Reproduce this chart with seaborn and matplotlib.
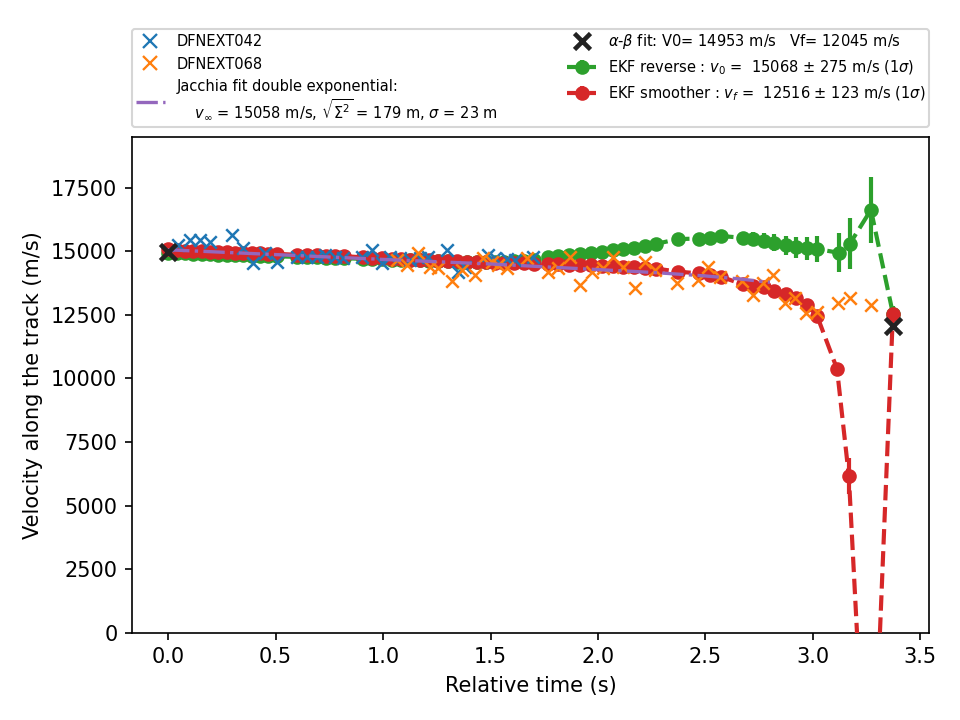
import numpy as np
import pandas as pd
import matplotlib
matplotlib.use("Agg")
import matplotlib.pyplot as plt
from matplotlib.lines import Line2D
import seaborn as sns

# DFNEXT042 observations
t042 = [0.047, 0.102, 0.149, 0.195, 0.298, 0.349, 0.395, 0.451, 0.507, 0.600, 0.647,
        0.693, 0.730, 0.777, 0.814, 0.900, 0.949, 0.995, 1.033, 1.079, 1.126, 1.172,
        1.209, 1.298, 1.349, 1.381, 1.488, 1.521, 1.577, 1.614, 1.698]
v042 = [15260, 15450, 15450, 15380, 15650, 15140, 14550, 14940, 14590, 14790, 14790,
        14790, 14860, 14790, 14750, 14790, 15060, 14550, 14790, 14750, 14670, 14750,
        14790, 15060, 14200, 14400, 14860, 14750, 14700, 14650, 14790]

# DFNEXT068 observations
t068 = [1.065, 1.112, 1.163, 1.219, 1.256, 1.320, 1.367, 1.428, 1.465, 1.507, 1.535,
        1.577, 1.670, 1.767, 1.814, 1.870, 1.916, 1.972, 2.023, 2.070, 2.116, 2.172,
        2.219, 2.265, 2.367, 2.465, 2.512, 2.567, 2.670, 2.720, 2.770, 2.814, 2.870,
        2.916, 2.970, 3.019, 3.116, 3.172, 3.270]
v068 = [14670, 14470, 14940, 14390, 14350, 13850, 14270, 14080, 14750, 14590, 14470,
        14350, 14750, 14200, 14350, 14790, 13690, 14200, 14350, 14790, 14390, 13570,
        14590, 14270, 13760, 13880, 14390, 14000, 13850, 13290, 13760, 14080, 12970,
        13170, 12580, 12620, 12970, 13170, 12900]

# Jacchia double exponential fit
t_jac = [0.0, 0.5, 1.0, 1.5, 2.0, 2.25, 2.5, 2.65, 2.8]
v_jac = [15058, 14870, 14680, 14500, 14280, 14170, 14030, 13920, 13780]

# alpha-beta fit end points
t_ab = [0.0, 3.372]
v_ab = [14953, 12045]

# EKF reverse (green)
t_rev = [0.000, 0.042, 0.079, 0.116, 0.158, 0.195, 0.233, 0.274, 0.312, 0.349, 0.391,
         0.428, 0.465, 0.507, 0.600, 0.647, 0.693, 0.735, 0.777, 0.819, 0.905, 0.949,
         0.995, 1.040, 1.084, 1.126, 1.172, 1.214, 1.256, 1.300, 1.345, 1.390, 1.435,
         1.480, 1.521, 1.565, 1.610, 1.655, 1.700, 1.767, 1.814, 1.865, 1.916, 1.967,
         2.019, 2.070, 2.116, 2.167, 2.219, 2.270, 2.372, 2.470, 2.521, 2.572, 2.674,
         2.721, 2.772, 2.819, 2.874, 2.921, 2.972, 3.019, 3.121, 3.172, 3.270, 3.372]
v_rev = [14950, 14930, 14920, 14900, 14890, 14880, 14870, 14860, 14850, 14840, 14830,
         14820, 14810, 14800, 14780, 14770, 14760, 14750, 14740, 14730, 14700, 14690,
         14680, 14670, 14660, 14650, 14640, 14620, 14610, 14600, 14590, 14580, 14560,
         14570, 14580, 14590, 14600, 14620, 14650, 14760, 14800, 14850, 14900, 14940,
         14980, 15040, 15080, 15130, 15190, 15290, 15480, 15500, 15540, 15600, 15530,
         15490, 15420, 15340, 15230, 15150, 15120, 15090, 14940, 15300, 16630, 12550]
e_rev = [275, 270, 265, 260, 255, 250, 245, 240, 235, 230, 225,
         220, 215, 210, 200, 195, 190, 185, 180, 175, 170, 165,
         160, 160, 155, 155, 150, 150, 145, 145, 140, 140, 140,
         140, 140, 140, 140, 140, 140, 140, 140, 140, 140, 140,
         140, 140, 140, 140, 140, 140, 130, 150, 170, 200, 220,
         250, 280, 320, 360, 400, 450, 510, 770, 1000, 1300, 300]

# EKF smoother (red)
t_smo = [0.000, 0.042, 0.079, 0.116, 0.158, 0.195, 0.233, 0.274, 0.312, 0.349, 0.391,
         0.428, 0.465, 0.507, 0.600, 0.647, 0.693, 0.735, 0.777, 0.819, 0.905, 0.949,
         0.995, 1.040, 1.084, 1.126, 1.172, 1.214, 1.256, 1.300, 1.345, 1.390, 1.435,
         1.480, 1.521, 1.565, 1.610, 1.655, 1.700, 1.767, 1.814, 1.865, 1.916, 1.967,
         2.019, 2.070, 2.116, 2.167, 2.219, 2.270, 2.372, 2.470, 2.521, 2.572, 2.674,
         2.721, 2.772, 2.819, 2.874, 2.921, 2.972, 3.019, 3.112, 3.167, 3.265, 3.372]
v_smo = [15080, 15050, 15030, 15010, 15000, 14990, 14970, 14960, 14950, 14940, 14930,
         14920, 14910, 14900, 14860, 14850, 14840, 14830, 14820, 14810, 14760, 14740,
         14720, 14700, 14690, 14670, 14650, 14640, 14620, 14610, 14600, 14580, 14570,
         14560, 14550, 14540, 14530, 14520, 14510, 14500, 14490, 14480, 14470, 14460,
         14440, 14410, 14390, 14370, 14350, 14320, 14200, 14130, 14060, 14000, 13700,
         13640, 13600, 13450, 13330, 13170, 12900, 12470, 10380, 6170, -9700, 12516]
e_smo = [60, 60, 60, 60, 60, 60, 60, 60, 60, 60, 60,
         60, 60, 60, 60, 60, 60, 60, 60, 60, 60, 60,
         60, 60, 60, 60, 60, 60, 60, 60, 60, 60, 60,
         60, 60, 60, 60, 60, 60, 60, 60, 60, 60, 60,
         60, 60, 60, 60, 60, 60, 70, 70, 70, 70, 80,
         80, 80, 90, 90, 100, 110, 130, 200, 700, 2500, 123]

lab042 = 'DFNEXT042'
lab068 = 'DFNEXT068'
labJac = ('Jacchia fit double exponential:\n    $v_{\\infty}$ = 15058 m/s, '
          '$\\sqrt{\\Sigma^2}$ = 179 m, $\\sigma$ = 23 m')
labAB = '$\\alpha$-$\\beta$ fit: V0= 14953 m/s   Vf= 12045 m/s'
labRev = 'EKF reverse : $v_0$ =  15068 $\\pm$ 275 m/s (1$\\sigma$)'
labSmo = 'EKF smoother : $v_f$ =  12516 $\\pm$ 123 m/s (1$\\sigma$)'

plt.rcParams['font.family'] = 'DejaVu Sans'
fig = plt.figure(figsize=(6.4, 4.8), dpi=150)
ax = fig.add_axes([0.1375, 0.121, 0.8302, 0.689])

df042 = pd.DataFrame({'t': t042, 'v': v042})
df068 = pd.DataFrame({'t': t068, 'v': v068})
dfjac = pd.DataFrame({'t': t_jac, 'v': v_jac})
dfab = pd.DataFrame({'t': t_ab, 'v': v_ab})

h_rev = ax.errorbar(t_rev, v_rev, yerr=e_rev, fmt='o--', color='tab:green', ms=6, lw=2,
                    elinewidth=2, zorder=2)
h_smo = ax.errorbar(t_smo, v_smo, yerr=e_smo, fmt='o--', color='tab:red', ms=6, lw=2,
                    elinewidth=2, zorder=3)
sns.scatterplot(data=df042, x='t', y='v', marker='x', color='tab:blue', s=36, linewidth=1.2,
                ax=ax, zorder=4, legend=False)
sns.scatterplot(data=df068, x='t', y='v', marker='x', color='tab:orange', s=36, linewidth=1.2,
                ax=ax, zorder=4, legend=False)
sns.lineplot(data=dfjac, x='t', y='v', color='tab:purple', linestyle='-.', linewidth=1.6,
             ax=ax, zorder=5, legend=False)
sns.scatterplot(data=dfab, x='t', y='v', marker='x', color='#222222', s=60, linewidth=2.2,
                ax=ax, zorder=6, legend=False)

# legend handles matching the drawn styles
hb = Line2D([], [], ls='none', marker='x', color='tab:blue', ms=7, mew=1.1)
ho = Line2D([], [], ls='none', marker='x', color='tab:orange', ms=7, mew=1.1)
hj = Line2D([], [], ls='-.', color='tab:purple', lw=1.6)
hab = Line2D([], [], ls='none', marker='x', color='#222222', ms=8, mew=2.2)
ax.legend([hb, ho, hj, hab, h_rev, h_smo], [lab042, lab068, labJac, labAB, labRev, labSmo],
          bbox_to_anchor=(0, 1.02, 1, 0.2), loc='lower left', mode='expand', ncol=2,
          fontsize=7, borderaxespad=0, borderpad=0.25)

ax.set_ylim(0, 19500)
ax.set_xlim(-0.168, 3.54)
ax.set_xlabel('Relative time (s)')
ax.set_ylabel('Velocity along the track (m/s)')

fig.savefig('out.png', dpi=150)
